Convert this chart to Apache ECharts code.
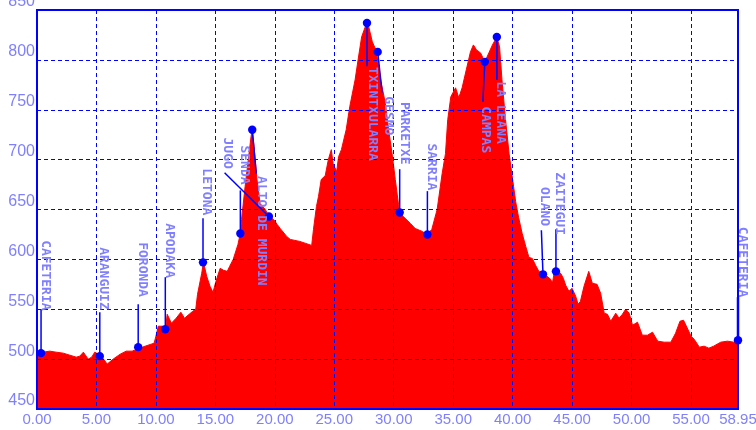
<!DOCTYPE html>
<html>
<head>
<meta charset="utf-8">
<script src="https://cdn.jsdelivr.net/npm/echarts@6/dist/echarts.min.js"></script>
<style>
html,body{margin:0;padding:0;background:#ffffff;}
#chart{width:756px;height:430px;}
</style>
</head>
<body>
<div id="chart"></div>
<script>
// Profile: distance (km) and elevation (m)
const distances = [0.0,0.5,1.07,1.6,2.2,2.75,3.3,3.6,3.9,4.3,4.6,4.86,5.28,5.6,5.9,6.4,7.0,7.5,8.0,8.4,9.1,9.6,9.85,10.0,10.2,10.6,10.8,10.95,11.3,11.7,12.1,12.4,12.8,13.1,13.35,13.5,13.85,14.0,14.27,14.55,14.8,15.05,15.4,15.7,16.0,16.2,16.5,16.9,17.1,17.2,17.5,17.8,18.0,18.1,18.25,18.5,18.76,19.2,19.5,19.9,20.2,20.45,21.0,21.3,22.1,22.6,23.1,23.25,23.5,23.67,23.9,24.24,24.5,24.75,24.9,25.2,25.36,25.6,26.0,26.3,26.75,27.0,27.3,27.6,27.8,28.0,28.2,28.5,28.65,28.9,29.3,29.57,29.86,30.13,30.4,30.5,30.8,31.4,31.8,32.4,32.8,33.2,33.65,34.07,34.35,34.54,34.8,35.2,35.47,35.75,36.1,36.45,36.7,36.96,37.3,37.66,38.0,38.3,38.67,38.9,39.1,39.4,39.7,40.0,40.25,40.5,40.8,41.1,41.37,41.65,41.93,42.2,42.55,42.9,43.2,43.34,43.47,43.64,44.04,44.26,44.46,44.73,45.0,45.3,45.5,45.7,46.0,46.4,46.7,47.1,47.4,47.7,47.97,48.25,48.67,48.95,49.23,49.5,49.8,50.08,50.5,50.9,51.34,51.76,52.2,52.74,53.3,53.7,54.07,54.37,54.65,55.0,55.26,55.7,56.1,56.5,56.9,57.5,58.06,58.6,58.95];
const elevations = [506,507,508,507,506,504,502,503,507,500,502,507,504,500,495,500,505,508,508,510,513,515,516,523,533,533,530,545,536,541,547,541,545,548,550,565,586,597,583,573,567,578,591,589,588,593,600,615,626,640,673,703,723,730,713,680,656,650,643,640,635,631,623,620,618,616,614,630,653,663,680,684,700,710,696,688,703,710,730,753,780,800,823,833,838,828,818,810,808,780,756,730,706,680,655,647,643,636,631,628,625,630,650,686,706,740,763,772,762,772,790,808,815,810,807,798,807,815,823,813,780,740,706,680,658,642,626,613,602,601,594,588,585,583,580,576,585,588,586,581,574,568,571,563,555,558,573,588,576,575,566,546,545,538,546,541,545,550,546,534,537,524,524,527,518,517,517,526,538,539,532,523,520,512,513,511,513,517,518,517,519];

// Waypoints
const wpNames = ['CAFETERIA','ARANGUIZ','FORONDA','APODAKA','LETONA','SENDA','JUGO','ALTO DE MURDIN','TXINTXULARRA','GESMO','PARKETXE','SARRIA','CAMPAS','LA LEANA','OLANO','ZAITEGUI','CAFETERIA'];
const wpKm = [0.34,5.28,8.51,10.79,13.96,17.1,19.5,18.1,27.75,28.65,30.5,32.83,37.66,38.67,42.55,43.64,58.95];
const wpElev = [506,503,512,530,597,626,643,730,837,808,647,625,798,823,585,588,519];

// Axis tick settings
const xMin = 0, xMax = 58.95, xStep = 5;
const yMin = 450, yMax = 850, yStep = 50;

// Label layout (pixel offsets from the dot): [text centre dx, text top dy, line end dx, line end dy]
const labelLayout = [
  [4.2,-113,0,-44],[4,-109,0,-44],[4.2,-105,0,-43],[4.2,-106,0,-52],
  [3.2,-94,0,-44],[3.7,-88,0,-43],[-41.3,-79,-44.3,-43.7],[9,46.4,4,43.7],
  [5,44,0,43.3],[10.4,44.4,4.4,40.7],[5,-110.6,0,-43.3],[3.6,-91,0,-43.3],
  [1,44.4,-2,40],[3.7,44.4,0,43],[1,-87.3,-1.6,-44],[3.7,-99,0,-42],[4.4,-113.3,0,-43]
];

const blue = '#0000ff';
const lav = '#8080ff';

const chart = echarts.init(document.getElementById('chart'), null, {renderer: 'canvas'});
chart.setOption({
  animation: false,
  backgroundColor: '#ffffff',
  grid: {left: 37, right: 18, top: 10, bottom: 21, show: true, borderColor: blue, borderWidth: 2, z: 3, outerBoundsMode: 'none', containLabel: false},
  xAxis: {
    type: 'value', min: xMin, max: xMax, interval: xStep, z: 3,
    axisLine: {show: true, lineStyle: {color: blue, width: 2}},
    axisTick: {show: false},
    axisLabel: {color: lav, fontFamily: 'Liberation Sans', fontSize: 15, margin: 3,
      formatter: v => v.toFixed(2), showMinLabel: true, showMaxLabel: true, hideOverlap: false},
    splitLine: {show: true, lineStyle: {color: blue, width: 1, type: [4, 3]}}
  },
  yAxis: {
    type: 'value', min: yMin, max: yMax, interval: yStep, z: 3,
    axisLine: {show: true, lineStyle: {color: blue, width: 2}},
    axisTick: {show: false},
    axisLabel: {color: lav, fontFamily: 'Liberation Sans', fontSize: 16, margin: 2, verticalAlign: 'bottom',
      showMinLabel: true, showMaxLabel: true},
    splitLine: {show: true, lineStyle: {color: blue, width: 1, type: [4, 3]}}
  },
  series: [
    {
      type: 'line', z: 1,
      data: distances.map((d, i) => [d, elevations[i]]),
      showSymbol: false, symbol: 'none',
      lineStyle: {color: '#ff0000', width: 1},
      areaStyle: {color: '#ff0000', opacity: 1},
      silent: true
    },
    {
      type: 'custom', z: 10, clip: false,
      coordinateSystem: 'cartesian2d',
      data: wpKm.map((k, i) => [k, wpElev[i], i]),
      encode: {x: 0, y: 1},
      renderItem: function (params, api) {
        const i = api.value(2);
        const p = api.coord([api.value(0), api.value(1)]);
        const L = labelLayout[i];
        const last = i === wpNames.length - 1;
        return {
          type: 'group',
          children: [
            {type: 'line', shape: {x1: p[0], y1: p[1], x2: p[0] + L[2], y2: p[1] + L[3]},
              style: {stroke: blue, lineWidth: last ? 2.5 : 1.5}},
            {type: 'circle', shape: {cx: p[0], cy: p[1], r: 4.2}, style: {fill: blue}},
            {type: 'text', x: p[0] + L[0], y: p[1] + L[1], rotation: -Math.PI / 2,
              style: {text: wpNames[i], fill: lav, font: 'bold 13px "DejaVu Sans Mono"', align: 'left', verticalAlign: 'middle'}}
          ]
        };
      }
    }
  ]
});
</script>
</body>
</html>
